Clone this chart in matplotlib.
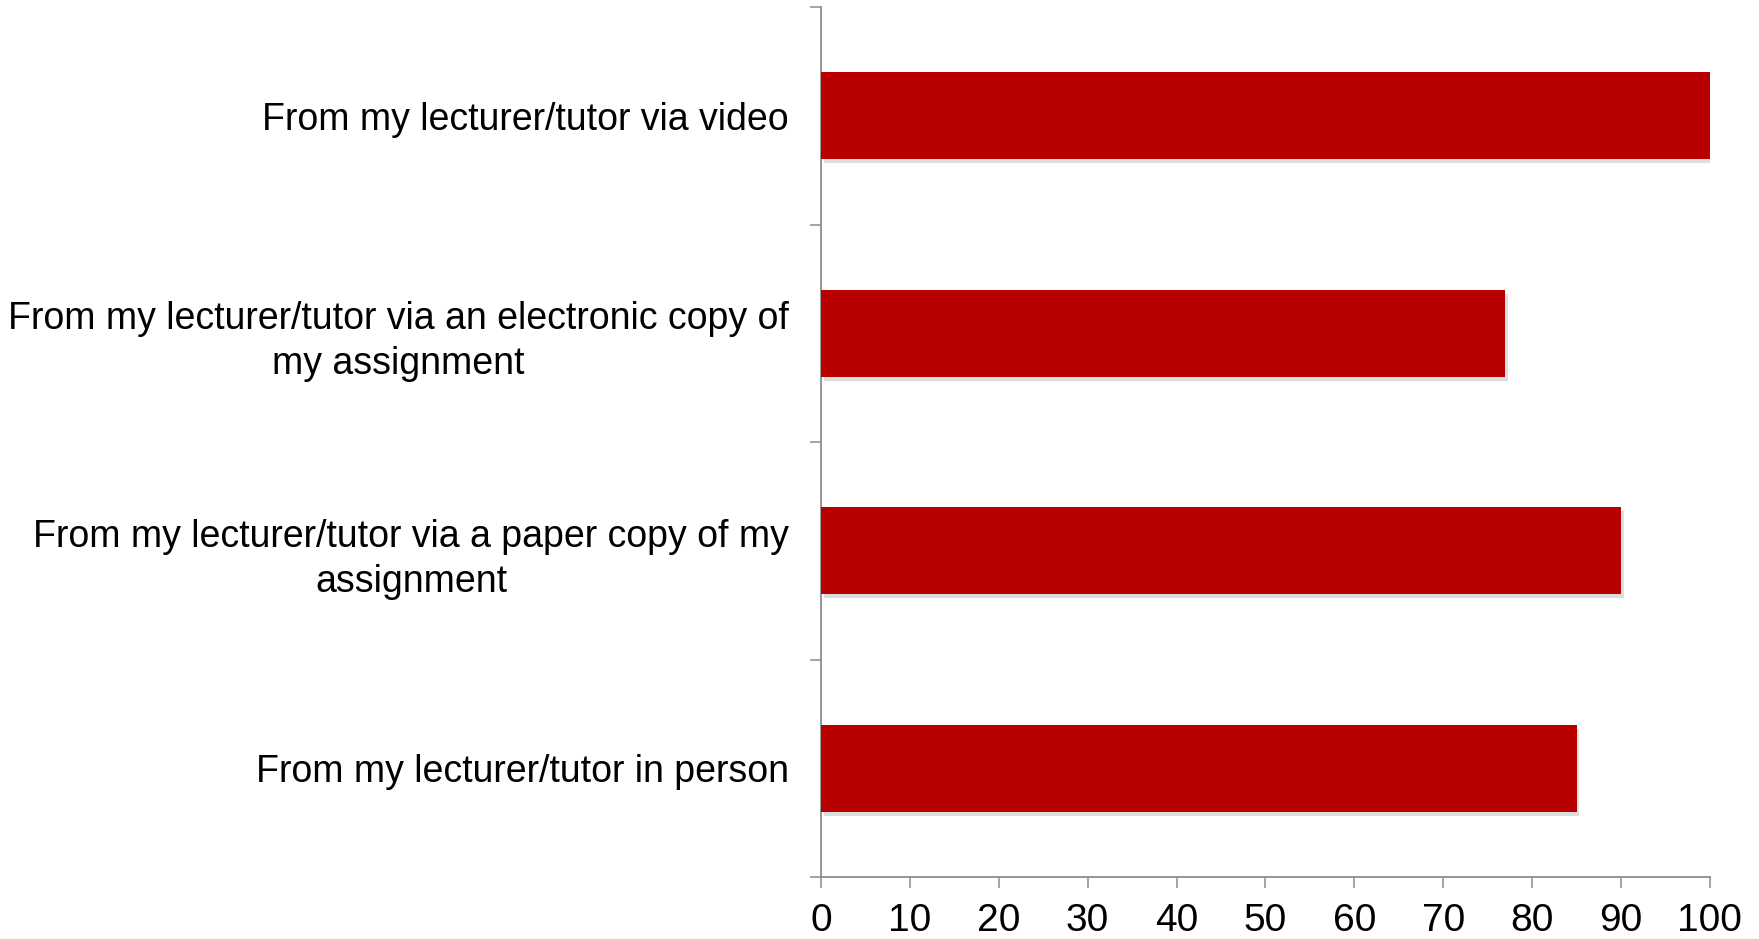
import matplotlib.pyplot as plt
import matplotlib.patheffects as pe

plt.rcParams['font.family'] = ['Liberation Sans', 'DejaVu Sans']

# bottom to top
categories = [
    'From my lecturer/tutor in person',
    'From my lecturer/tutor via a paper copy of my\nassignment',
    'From my lecturer/tutor via an electronic copy of\nmy assignment',
    'From my lecturer/tutor via video',
]
values = [85, 90, 77, 100]
xticks = list(range(0, 101, 10))

fig = plt.figure(figsize=(17.59, 9.39), dpi=100)
ax = fig.add_axes([0.4667, 0.066, 0.5054, 0.9265])

pos = list(range(len(categories)))
bars = ax.barh(pos, values, height=0.4, color='#b80000', zorder=3)
for b in bars:
    b.set_path_effects([
        pe.SimplePatchShadow(offset=(2, -3), shadow_rgbFace='#666666', alpha=0.22),
        pe.Normal(),
    ])

ax.set_xlim(0, 100)
ax.set_ylim(-0.5, len(categories) - 0.5)
ax.set_xticks(xticks)
ax.set_yticks(pos)
ax.set_yticklabels(categories)
ax.set_yticks([p - 0.5 for p in range(len(categories) + 1)], minor=True)

for s in ['top', 'right']:
    ax.spines[s].set_visible(False)
for s in ['left', 'bottom']:
    ax.spines[s].set_color('#8c8c8c')
    ax.spines[s].set_linewidth(1.3)

ax.tick_params(axis='x', direction='out', length=8, width=1.1, color='#8c8c8c',
               labelsize=28, pad=11)
ax.tick_params(axis='y', which='major', length=0, labelsize=27, pad=23)
ax.tick_params(axis='y', which='minor', direction='out', length=8, width=1.1,
               color='#8c8c8c')
plt.setp(ax.get_yticklabels(), multialignment='center', linespacing=1.32)

fig.savefig('out.png', dpi=100)
